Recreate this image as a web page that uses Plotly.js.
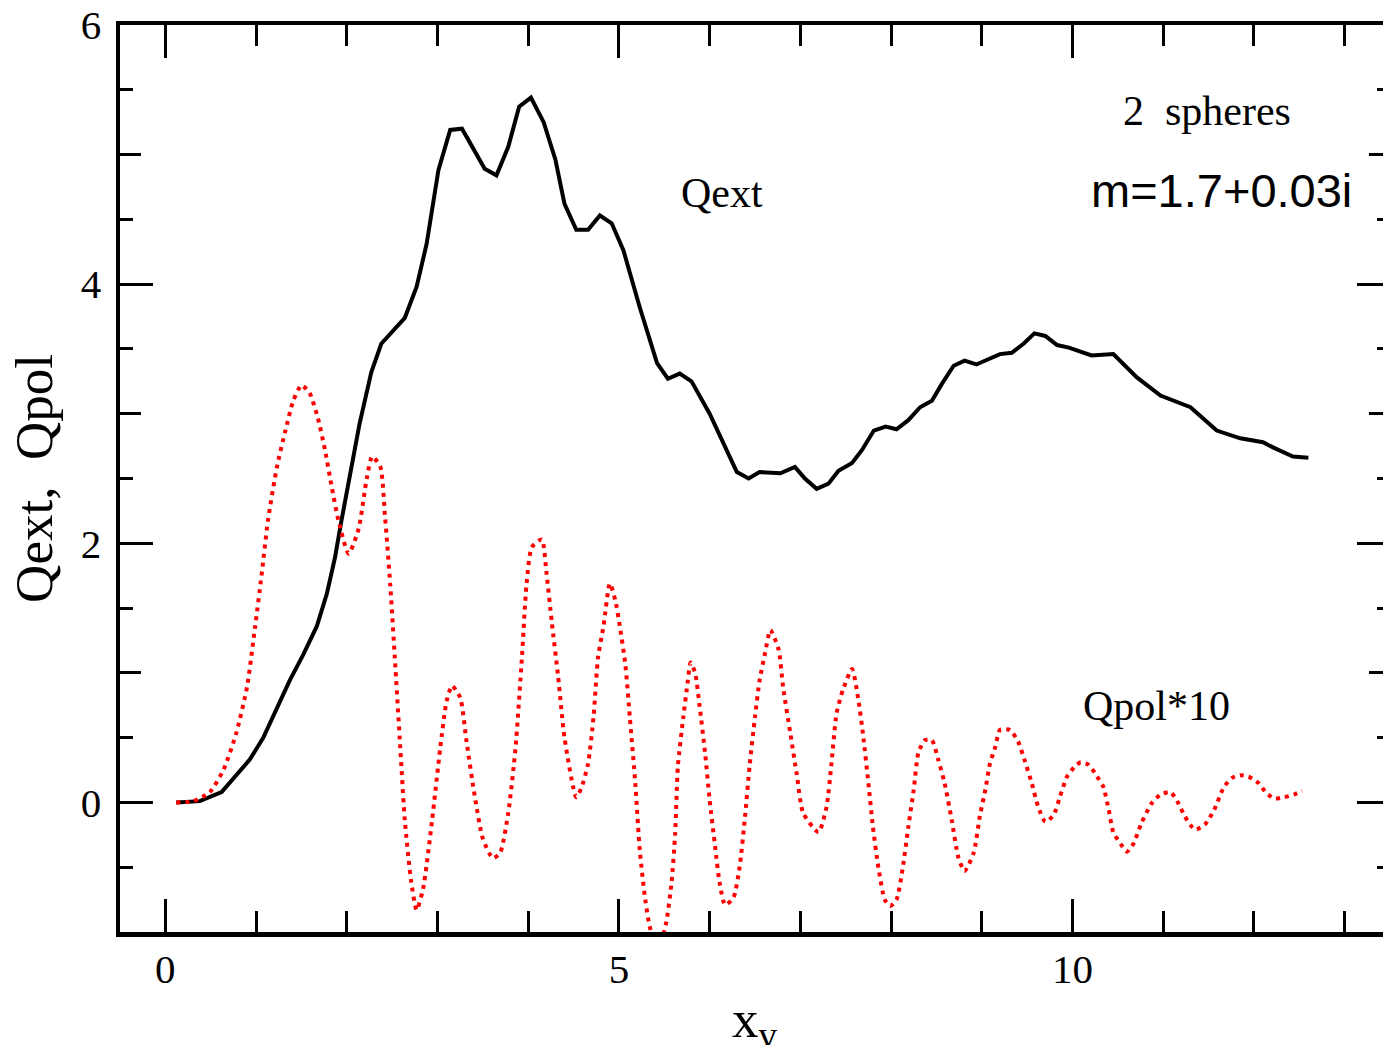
<!DOCTYPE html>
<html>
<head>
<meta charset="utf-8">
<script src="https://cdn.plot.ly/plotly-3.0.1.min.js"></script>
<style>
html, body { margin: 0; padding: 0; overflow: hidden; background: #fff; }
#chart { width: 1420px; height: 1045px; }
</style>
</head>
<body>
<div id="chart"></div>
<script>
// ---- data ----
const qextX = [0.12,0.38,0.62,0.78,0.93,1.08,1.23,1.37,1.52,1.67,1.78,1.87,1.94,2.03,2.14,2.27,2.38,2.64,2.77,2.88,3.01,3.14,3.27,3.52,3.65,3.78,3.90,4.03,4.17,4.30,4.40,4.53,4.66,4.79,4.92,5.05,5.23,5.42,5.54,5.67,5.80,6.00,6.30,6.43,6.55,6.78,6.94,7.05,7.18,7.31,7.42,7.57,7.68,7.81,7.94,8.06,8.19,8.32,8.45,8.56,8.69,8.81,8.94,9.20,9.33,9.46,9.58,9.70,9.83,9.96,10.21,10.45,10.71,10.97,11.11,11.30,11.59,11.85,12.10,12.21,12.43,12.60];
const qextY = [0.00,0.01,0.08,0.21,0.33,0.50,0.72,0.94,1.14,1.36,1.61,1.89,2.17,2.50,2.92,3.32,3.54,3.74,3.98,4.31,4.88,5.19,5.20,4.89,4.84,5.06,5.37,5.44,5.25,4.96,4.62,4.42,4.42,4.53,4.47,4.26,3.82,3.39,3.27,3.31,3.25,3.00,2.55,2.50,2.55,2.54,2.59,2.50,2.42,2.46,2.56,2.62,2.72,2.87,2.90,2.88,2.95,3.05,3.10,3.23,3.37,3.41,3.38,3.46,3.47,3.54,3.62,3.60,3.53,3.51,3.45,3.46,3.28,3.14,3.10,3.05,2.87,2.81,2.78,2.74,2.67,2.66];

const qpolX = [0.12,0.31,0.49,0.64,0.78,0.90,0.99,1.06,1.13,1.23,1.32,1.41,1.50,1.59,1.68,1.76,1.83,1.91,2.02,2.13,2.22,2.28,2.37,2.42,2.48,2.53,2.59,2.64,2.71,2.77,2.84,2.94,3.03,3.10,3.16,3.25,3.32,3.41,3.50,3.61,3.69,3.78,3.86,3.93,3.98,4.04,4.15,4.20,4.26,4.33,4.40,4.53,4.59,4.66,4.72,4.77,4.83,4.90,4.96,5.01,5.07,5.12,5.18,5.23,5.29,5.34,5.43,5.52,5.58,5.62,5.65,5.71,5.76,5.79,5.84,5.89,5.95,6.00,6.06,6.11,6.17,6.26,6.33,6.39,6.44,6.50,6.55,6.61,6.67,6.76,6.81,6.89,6.96,7.03,7.20,7.29,7.34,7.40,7.47,7.57,7.64,7.69,7.75,7.80,7.86,7.93,7.99,8.06,8.13,8.19,8.25,8.30,8.37,8.45,8.52,8.59,8.67,8.74,8.81,8.91,8.98,9.04,9.09,9.15,9.20,9.31,9.40,9.47,9.55,9.62,9.70,9.79,9.86,9.94,10.03,10.09,10.18,10.27,10.34,10.40,10.45,10.53,10.60,10.67,10.76,10.87,10.97,11.08,11.17,11.24,11.35,11.46,11.56,11.67,11.76,11.85,11.94,12.05,12.14,12.23,12.33,12.44,12.53];
const qpolY = [0.00,0.01,0.08,0.25,0.53,0.89,1.36,1.75,2.17,2.59,2.86,3.10,3.22,3.16,2.97,2.72,2.45,2.17,1.92,2.11,2.50,2.67,2.59,2.22,1.67,1.11,0.42,-0.14,-0.61,-0.83,-0.67,-0.14,0.42,0.78,0.90,0.81,0.47,0.05,-0.28,-0.43,-0.39,-0.08,0.42,1.11,1.67,1.97,2.03,1.78,1.39,0.97,0.50,0.04,0.12,0.30,0.66,1.12,1.36,1.69,1.56,1.36,1.07,0.66,0.15,-0.37,-0.75,-0.96,-1.15,-0.93,-0.62,-0.24,0.28,0.66,0.94,1.08,1.00,0.74,0.38,0.02,-0.34,-0.62,-0.79,-0.74,-0.50,-0.11,0.28,0.66,0.94,1.15,1.33,1.18,0.89,0.53,0.22,-0.08,-0.23,-0.03,0.28,0.69,0.87,1.03,0.79,0.53,0.15,-0.19,-0.50,-0.75,-0.80,-0.75,-0.50,-0.19,0.10,0.38,0.48,0.48,0.33,0.15,-0.14,-0.42,-0.53,-0.39,-0.10,0.10,0.30,0.43,0.56,0.56,0.47,0.33,0.15,-0.03,-0.15,-0.10,0.04,0.20,0.28,0.31,0.29,0.20,0.12,-0.06,-0.23,-0.32,-0.38,-0.32,-0.16,-0.01,0.06,0.08,-0.01,-0.11,-0.21,-0.17,-0.06,0.12,0.19,0.21,0.20,0.15,0.07,0.03,0.04,0.06,0.09];

const xRange = [-0.5, 13.5];
const yRange = [-1, 6];
const xTitle = 'x<sub>v</sub>';
const yTitle = 'Qext,\u00a0\u00a0Qpol';
const labels = [
  {text: 'Qext', x: 6.14, y: 4.70, sans: false},
  {text: '2\u00a0\u00a0spheres', x: 11.48, y: 5.34, sans: false},
  {text: 'm=1.7+0.03i', x: 11.64, y: 4.725, sans: true},
  {text: 'Qpol*10', x: 10.93, y: 0.744, sans: false}
];

const serif = '"Liberation Serif", "Times New Roman", Times, serif';
const sans = '"Liberation Sans", Arial, Helvetica, sans-serif';

const traces = [
  {x: qextX, y: qextY, type: 'scatter', mode: 'lines', name: 'Qext',
   line: {color: '#000000', width: 4}, hoverinfo: 'skip'},
  {x: qpolX, y: qpolY, type: 'scatter', mode: 'lines', name: 'Qpol*10',
   line: {color: '#ff0000', width: 4, dash: '4px,5px', shape: 'spline', smoothing: 0.6}, hoverinfo: 'skip'},
  {x: [], y: [], type: 'scatter', mode: 'lines', yaxis: 'y2', showlegend: false, hoverinfo: 'skip'}
];

const axisCommon = {
  showline: true, linewidth: 4.5, linecolor: '#000', mirror: 'ticks',
  ticks: 'inside', tickwidth: 3, tickcolor: '#000',
  showgrid: false, zeroline: false,
  tickfont: {family: serif, size: 41, color: '#000'}
};

const annotations = labels.map(l => ({
  text: l.text, x: l.x, y: l.y, xref: 'x', yref: 'y',
  xanchor: 'center', yanchor: 'middle', showarrow: false,
  font: {family: l.sans ? sans : serif, size: l.sans ? 47 : 42, color: '#000'}
}));
// x-axis title placed as a paper annotation below the tick labels
annotations.push({
  text: xTitle, x: 0.5, y: -0.1, xref: 'paper', yref: 'paper',
  xanchor: 'center', yanchor: 'middle', showarrow: false,
  font: {family: serif, size: 53, color: '#000'}
});

const layout = {
  width: 1420, height: 1045,
  margin: {l: 120, r: 30, t: 25, b: 113, pad: 0},
  paper_bgcolor: '#fff', plot_bgcolor: '#fff',
  showlegend: false,
  font: {family: serif, size: 40, color: '#000'},
  xaxis: Object.assign({}, axisCommon, {
    range: xRange, tick0: 0, dtick: 5, ticklen: 33, ticklabelstandoff: -3,
    minor: {ticks: 'inside', ticklen: 21, tickwidth: 3, tickcolor: '#000', tick0: 0, dtick: 1, showgrid: false},
    automargin: false
  }),
  yaxis: Object.assign({}, axisCommon, {
    range: yRange, tick0: 0, dtick: 2, ticklen: 33, ticklabelstandoff: 6,
    minor: {ticks: 'inside', ticklen: 21, tickwidth: 3, tickcolor: '#000', tick0: 0, dtick: 1, showgrid: false},
    title: {text: yTitle, font: {family: serif, size: 53, color: '#000'}, standoff: 12},
    automargin: false
  }),
  yaxis2: {
    overlaying: 'y', side: 'left', range: yRange,
    showline: false, mirror: 'ticks', ticks: 'inside', ticklen: 13, tickwidth: 3, tickcolor: '#000',
    tick0: 0, dtick: 0.5, showticklabels: false, showgrid: false, zeroline: false
  },
  annotations: annotations
};

Plotly.newPlot('chart', traces, layout, {staticPlot: true, displayModeBar: false});
</script>
</body>
</html>
